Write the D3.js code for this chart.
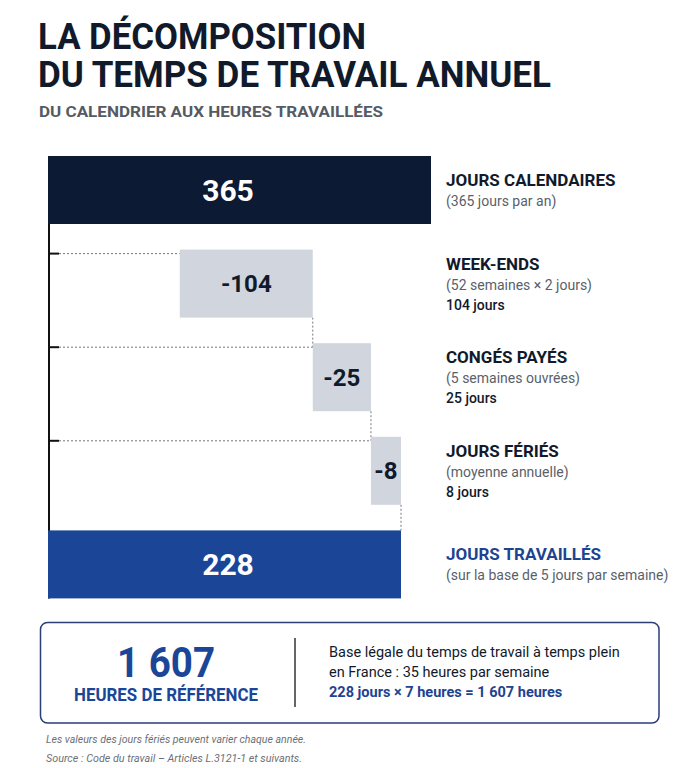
<!DOCTYPE html>
<meta charset="utf-8">

<style>
  body {
    margin: 0px;
    background: #fff;
  }

  text {
    font-family: Roboto, "Liberation Sans", sans-serif;
  }

  .title {
    font-weight: 700;
    fill: #111a2b;
  }

  .note {
    fill: #5a5f6a;
    font-size: 14px;
  }
</style>

<script src="https://cdn.jsdelivr.net/npm/d3@7"></script>

<body>
  <svg class="chart"></svg>
</body>

<script>
const width = 698;
const height = 768;

// rows of the waterfall, top to bottom
const categories = ['JOURS CALENDAIRES', 'WEEK-ENDS', 'CONGÉS PAYÉS', 'JOURS FÉRIÉS', 'JOURS TRAVAILLÉS'];
const values = [365, -104, -25, -8, 228];
const notes = ['(365 jours par an)', '(52 semaines × 2 jours)', '(5 semaines ouvrées)', '(moyenne annuelle)', '(sur la base de 5 jours par semaine)'];
const dayLabels = [null, '104 jours', '25 jours', '8 jours', null];

const boxLines = ['Base légale du temps de travail à temps plein', 'en France : 35 heures par semaine', '228 jours × 7 heures = 1 607 heures'];
const footnotes = ['Les valeurs des jours fériés peuvent varier chaque année.', 'Source : Code du travail – Articles L.3121-1 et suivants.'];

const colors = {total: '#0c1a33', worked: '#1b4698', step: '#d0d5de', ink: '#111a2b', blue: '#1e4391'};

const svg = d3.select('.chart')
    .attr('width', width)
    .attr('height', height);

// titles
svg.append('text')
    .attr('class', 'title')
    .attr('x', 38).attr('y', 49)
    .attr('font-size', 37.5)
    .attr('textLength', 328).attr('lengthAdjust', 'spacingAndGlyphs')
    .text('LA DÉCOMPOSITION');

svg.append('text')
    .attr('class', 'title')
    .attr('x', 38).attr('y', 87)
    .attr('font-size', 37.5)
    .attr('textLength', 513).attr('lengthAdjust', 'spacingAndGlyphs')
    .text('DU TEMPS DE TRAVAIL ANNUEL');

svg.append('text')
    .attr('x', 39).attr('y', 117)
    .attr('font-size', 15.5)
    .attr('font-weight', 700)
    .attr('fill', '#555a63')
    .attr('textLength', 344).attr('lengthAdjust', 'spacingAndGlyphs')
    .text('DU CALENDRIER AUX HEURES TRAVAILLÉES');

// scales: totals and steps are drawn with their own widths, like the original layout
const x = d3.scaleLinear().domain([0, 228, 365]).range([48, 401, 431]);
const stepWidth = d3.scalePow().exponent(0.58).domain([0, 104]).range([0, 133]);
const y = d3.scaleBand().domain(categories).range([156, 598.4]).paddingInner(0.2735).paddingOuter(0);

// lay out the bars: the steps end where the final total ends
const rows = categories.map(function(c, i) {
  return {name: c, value: values[i], note: notes[i], days: dayLabels[i], i: i};
});

let cursor = x(values[values.length - 1]);
for (let i = rows.length - 2; i > 0; i--) {
  const w = stepWidth(-rows[i].value);
  rows[i].x1 = cursor;
  rows[i].x0 = cursor - w;
  cursor -= w;
}
rows[0].x0 = x(0); rows[0].x1 = x(rows[0].value);
rows[4].x0 = x(0); rows[4].x1 = x(rows[4].value);

const bw = y.bandwidth();
const guideY = function(d) { return y(d.name) + 4; };

// left axis line
svg.append('line')
    .attr('x1', 49).attr('x2', 49)
    .attr('y1', y(categories[0]) + bw)
    .attr('y2', y(categories[4]) + bw)
    .attr('stroke', '#111')
    .attr('stroke-width', 2);

const steps = rows.slice(1, 4);

// dotted guides from axis to each step
svg.selectAll('.guide')
    .data(steps)
  .enter().append('line')
    .attr('class', 'guide')
    .attr('x1', 59).attr('x2', function(d) { return d.x0; })
    .attr('y1', guideY).attr('y2', guideY)
    .attr('stroke', '#777')
    .attr('stroke-dasharray', '2,2');

svg.selectAll('.tick')
    .data(steps)
  .enter().append('line')
    .attr('class', 'tick')
    .attr('x1', 49).attr('x2', 59)
    .attr('y1', guideY).attr('y2', guideY)
    .attr('stroke', '#111')
    .attr('stroke-width', 2);

// vertical dotted connectors between the steps
svg.selectAll('.connector')
    .data(steps)
  .enter().append('line')
    .attr('class', 'connector')
    .attr('x1', function(d) { return d.x1; })
    .attr('x2', function(d) { return d.x1; })
    .attr('y1', function(d) { return y(d.name) + bw; })
    .attr('y2', function(d) { return d.i === 3 ? y(categories[4]) : guideY(rows[d.i + 1]); })
    .attr('stroke', '#777')
    .attr('stroke-dasharray', '2,2');

svg.append('line')
    .attr('x1', rows[1].x0).attr('x2', rows[1].x0)
    .attr('y1', y(categories[0]) + bw)
    .attr('y2', guideY(rows[1]))
    .attr('stroke', 'none');

// bars
svg.selectAll('.bar')
    .data(rows)
  .enter().append('rect')
    .attr('class', 'bar')
    .attr('x', function(d) { return d.x0; })
    .attr('y', function(d) { return y(d.name); })
    .attr('width', function(d) { return d.x1 - d.x0; })
    .attr('height', bw)
    .attr('fill', function(d) { return d.i === 0 ? colors.total : d.i === 4 ? colors.worked : colors.step; });

// bar values
svg.selectAll('.value')
    .data(rows)
  .enter().append('text')
    .attr('class', 'value')
    .attr('x', function(d) { return d.value > 0 ? 228 : (d.x0 + d.x1) / 2; })
    .attr('y', function(d) { return y(d.name) + bw / 2 + (d.value > 0 ? 11 : 8.5); })
    .attr('text-anchor', 'middle')
    .attr('font-weight', 700)
    .attr('font-size', function(d) { return d.value > 0 ? 30 : 24; })
    .attr('fill', function(d) { return d.value > 0 ? '#fff' : colors.ink; })
    .text(function(d) { return d.value; });

// labels on the right
const labels = svg.selectAll('.label')
    .data(rows)
  .enter().append('g')
    .attr('class', 'label')
    .attr('transform', function(d) {
      const lines = d.days ? 3 : 2;
      return `translate(446, ${y(d.name) + 40 - (lines - 1) * 10})`;
    });

labels.append('text')
    .attr('font-size', 17)
    .attr('font-weight', 700)
    .attr('fill', function(d) { return d.i === 4 ? colors.blue : colors.ink; })
    .text(function(d) { return d.name; });

labels.append('text')
    .attr('class', 'note')
    .attr('y', 20)
    .text(function(d) { return d.note; });

labels.filter(function(d) { return d.days; }).append('text')
    .attr('y', 40)
    .attr('font-size', 14)
    .attr('font-weight', 500)
    .attr('fill', colors.ink)
    .text(function(d) { return d.days; });

// summary box
svg.append('rect')
    .attr('x', 40.5).attr('y', 622.5)
    .attr('width', 618.5).attr('height', 100.5)
    .attr('rx', 7)
    .attr('fill', '#fff')
    .attr('stroke', '#2b3f75')
    .attr('stroke-width', 1.5);

svg.append('line')
    .attr('x1', 295).attr('x2', 295)
    .attr('y1', 638).attr('y2', 707)
    .attr('stroke', '#333')
    .attr('stroke-width', 1.5);

svg.append('text')
    .attr('x', 166).attr('y', 677)
    .attr('text-anchor', 'middle')
    .attr('font-size', 43)
    .attr('font-weight', 700)
    .attr('fill', colors.worked)
    .attr('textLength', 98).attr('lengthAdjust', 'spacingAndGlyphs')
    .text('1 607');

svg.append('text')
    .attr('x', 166).attr('y', 701)
    .attr('text-anchor', 'middle')
    .attr('font-size', 19)
    .attr('font-weight', 700)
    .attr('fill', colors.worked)
    .attr('textLength', 184).attr('lengthAdjust', 'spacingAndGlyphs')
    .text('HEURES DE RÉFÉRENCE');

svg.selectAll('.boxline')
    .data(boxLines)
  .enter().append('text')
    .attr('class', 'boxline')
    .attr('x', 329)
    .attr('y', function(d, i) { return 657 + i * 20; })
    .attr('font-size', 14.5)
    .attr('font-weight', function(d, i) { return i === 2 ? 700 : 400; })
    .attr('fill', function(d, i) { return i === 2 ? colors.blue : colors.ink; })
    .text(function(d) { return d; });

// footnotes
svg.selectAll('.foot')
    .data(footnotes)
  .enter().append('text')
    .attr('class', 'foot')
    .attr('x', 46)
    .attr('y', function(d, i) { return 743 + i * 19; })
    .attr('font-size', 10)
    .attr('font-style', 'italic')
    .attr('fill', '#6b6f78')
    .attr('textLength', function(d, i) { return i === 0 ? 260 : 256; })
    .attr('lengthAdjust', 'spacingAndGlyphs')
    .text(function(d) { return d; });
</script>
